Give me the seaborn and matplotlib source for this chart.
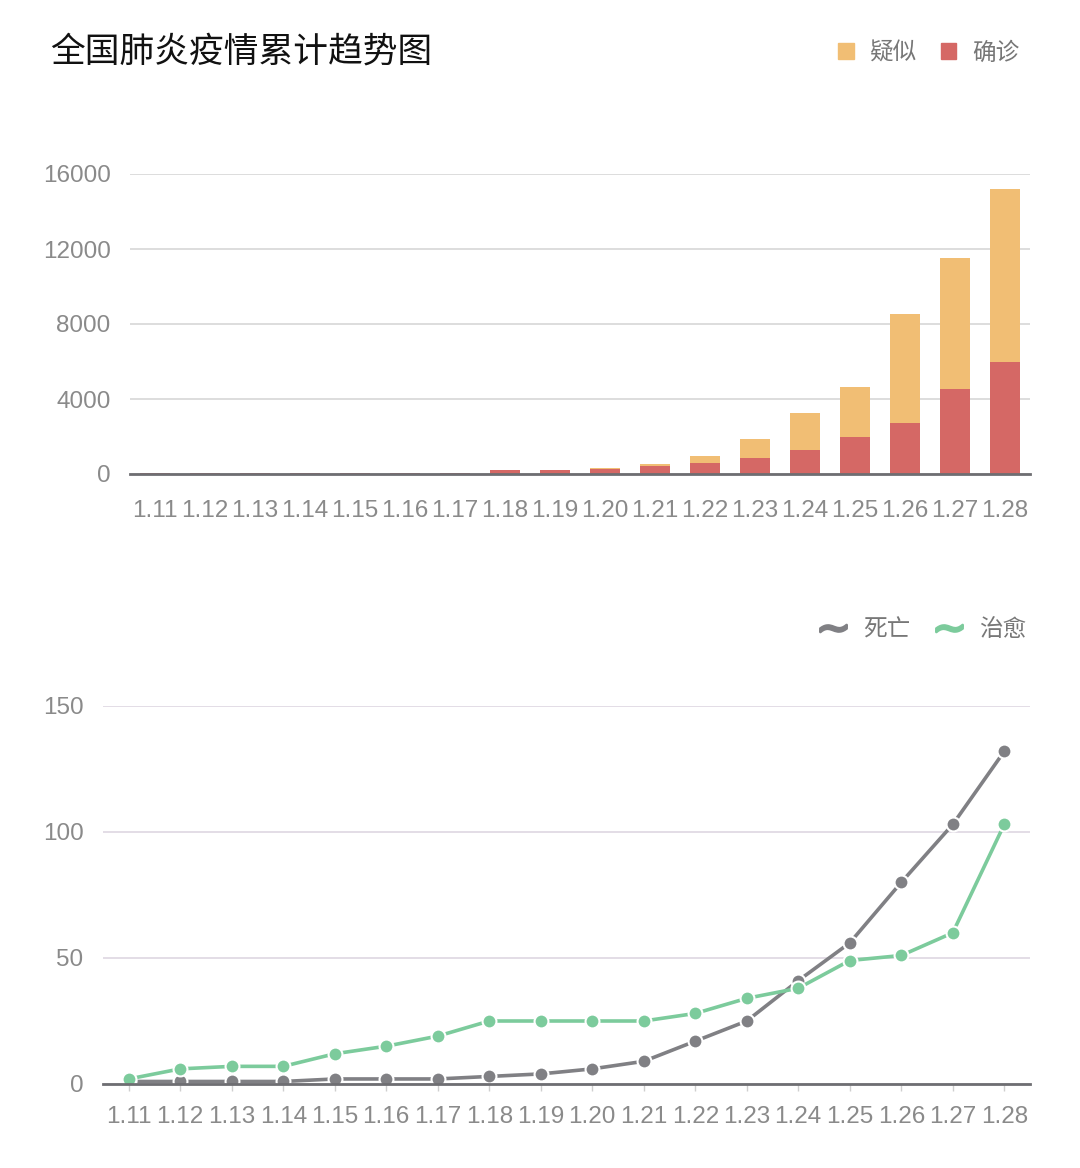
import numpy as np
import pandas as pd
import matplotlib
matplotlib.use('Agg')
import matplotlib.pyplot as plt
from matplotlib.patches import Patch
from matplotlib.lines import Line2D
import seaborn as sns

# dates on the x axis
dates = ['1.11', '1.12', '1.13', '1.14', '1.15', '1.16', '1.17', '1.18', '1.19',
         '1.20', '1.21', '1.22', '1.23', '1.24', '1.25', '1.26', '1.27', '1.28']

# top chart: cumulative confirmed and suspected cases (stacked)
confirmed = [41, 41, 41, 41, 41, 45, 62, 198, 218, 291, 440, 571, 830, 1287,
             1975, 2744, 4515, 5974]
suspected = [0, 0, 0, 0, 0, 0, 0, 0, 0, 30, 110, 380, 1060, 1950,
             2650, 5800, 6980, 9240]

# bottom chart: cumulative deaths and cured
deaths = [1, 1, 1, 1, 2, 2, 2, 3, 4, 6, 9, 17, 25, 41, 56, 80, 103, 132]
cured = [2, 6, 7, 7, 12, 15, 19, 25, 25, 25, 25, 28, 34, 38, 49, 51, 60, 103]

bar_ticks = [0, 4000, 8000, 12000, 16000]
line_ticks = [0, 50, 100, 150]

YELLOW = '#F1BE74'
RED = '#D56865'
GREY = '#808084'
GREEN = '#7CCB9C'
TICK = '#8A8A8A'
NUM_FONT = ['Liberation Sans', 'DejaVu Sans']

sns.set_theme(style='white')
plt.rcParams['font.family'] = ['Noto Sans CJK SC', 'DejaVu Sans']

df_bar = pd.DataFrame({'date': dates,
                       'confirmed': confirmed,
                       'total': np.array(confirmed) + np.array(suspected)})
df_line = pd.DataFrame({'date': dates, 'deaths': deaths, 'cured': cured})

fig = plt.figure(figsize=(10.8, 11.68), dpi=100)
fig.patch.set_facecolor('white')

# ---- top: stacked bars ----
ax1 = fig.add_axes([130 / 1080, 1 - 474 / 1168, 900 / 1080, 300 / 1168])
sns.barplot(data=df_bar, x='date', y='total', color=YELLOW, width=0.6,
            saturation=1, linewidth=0, ax=ax1, zorder=3)
sns.barplot(data=df_bar, x='date', y='confirmed', color=RED, width=0.6,
            saturation=1, linewidth=0, ax=ax1, zorder=3)
ax1.set_xlim(-0.5, len(dates) - 0.5)
ax1.set_ylim(0, 16000)
ax1.set_yticks(bar_ticks)
ax1.set_yticklabels([str(t) for t in bar_ticks])

# ---- bottom: lines ----
ax2 = fig.add_axes([103 / 1080, 1 - 1084 / 1168, 927 / 1080, 378 / 1168])
for col, c in [('deaths', GREY), ('cured', GREEN)]:
    sns.lineplot(data=df_line, x='date', y=col, color=c, linewidth=2.6,
                 marker='o', markersize=10, markeredgecolor='white',
                 markeredgewidth=1.5, sort=False, ax=ax2, zorder=4)
ax2.set_xlim(-0.5, len(dates) - 0.5)
ax2.set_ylim(0, 150)
ax2.set_yticks(line_ticks)
ax2.set_yticklabels([str(t) for t in line_ticks])

for ax, gcol in [(ax1, '#DADADA'), (ax2, '#E0DAE4')]:
    ax.set_xlabel('')
    ax.set_ylabel('')
    for s in ['top', 'right', 'left']:
        ax.spines[s].set_visible(False)
    ax.spines['bottom'].set_color('#6E6E72')
    ax.spines['bottom'].set_linewidth(2)
    ax.spines['bottom'].set_zorder(5)
    ax.grid(axis='y', color=gcol, linewidth=1.3, zorder=0)
    ax.grid(axis='x', visible=False)
    ax.set_axisbelow(True)
    ax.tick_params(axis='y', length=0, pad=14, labelsize=17.5, labelcolor=TICK)
    ax.tick_params(axis='x', labelsize=17.5, labelcolor=TICK)
    for lab in ax.get_xticklabels() + ax.get_yticklabels():
        lab.set_family(NUM_FONT)

ax1.tick_params(axis='x', length=0, pad=19)
ax2.tick_params(axis='x', bottom=True, length=5, width=1, color='#CFCFCF', pad=11)

# ---- title and legends ----
fig.text(50 / 1080, 1 - 52 / 1168, '全国肺炎疫情累计趋势图', fontsize=25,
         fontweight='medium', color='#111111', va='center', ha='left')

fig.legend(handles=[Patch(color=YELLOW, label='疑似'), Patch(color=RED, label='确诊')],
           loc='center right', bbox_to_anchor=(1019 / 1080, 1 - 53 / 1168),
           ncol=2, frameon=False, fontsize=17, labelcolor='#777777',
           handlelength=0.65, handleheight=0.65, handletextpad=0.65,
           columnspacing=1.05, borderaxespad=0, borderpad=0)

wave = [Line2D([], [], color=GREY, marker=r'$\sim$', linestyle='None',
               markersize=19, markeredgewidth=1.8, label='死亡'),
        Line2D([], [], color=GREEN, marker=r'$\sim$', linestyle='None',
               markersize=19, markeredgewidth=1.8, label='治愈')]
fig.legend(handles=wave, loc='center right',
           bbox_to_anchor=(1026 / 1080, 1 - 630 / 1168),
           ncol=2, frameon=False, fontsize=17, labelcolor='#777777',
           handlelength=1.15, handletextpad=0.7, columnspacing=1.05,
           borderaxespad=0, borderpad=0)

fig.savefig('out.png', dpi=100, facecolor='white')
